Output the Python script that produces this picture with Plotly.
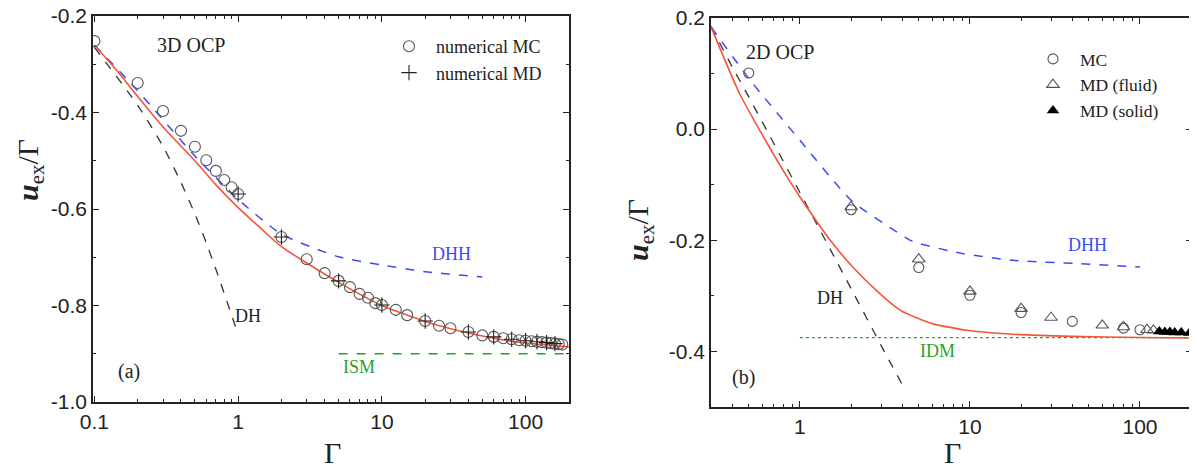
import plotly.graph_objects as go

# ---------------- Panel (a): 3D OCP ----------------
mc3_g = [0.1, 0.2, 0.3, 0.4, 0.5, 0.6, 0.7, 0.8, 0.9, 1, 2, 3, 4, 5, 6, 7, 8, 9, 10,
         12.5, 15, 20, 25, 30, 40, 50, 60, 70, 80, 90, 100, 110, 120, 130, 140, 150,
         160, 170, 180]
mc3_u = [-0.252, -0.339, -0.397, -0.438, -0.471, -0.499, -0.521, -0.540, -0.555, -0.569,
         -0.658, -0.704, -0.733, -0.749, -0.762, -0.776, -0.784, -0.795, -0.799,
         -0.809, -0.820, -0.832, -0.842, -0.847, -0.855, -0.862, -0.865, -0.868,
         -0.870, -0.872, -0.873, -0.874, -0.875, -0.876, -0.877, -0.878, -0.879,
         -0.880, -0.881]
md3_g = [1, 2, 5, 10, 20, 40, 60, 80, 100, 120, 140, 160]
md3_u = [-0.569, -0.658, -0.749, -0.799, -0.832, -0.855, -0.865, -0.870, -0.873,
         -0.875, -0.877, -0.879]
th3_g = [0.1, 0.15, 0.2, 0.3, 0.5, 0.7, 1, 1.5, 2, 3, 5, 10, 20, 40, 80, 200]
th3_u = [-0.26, -0.32, -0.367, -0.43, -0.50, -0.55, -0.597, -0.645, -0.678, -0.712,
         -0.752, -0.80, -0.833, -0.857, -0.874, -0.886]
dhh3_g = [0.1, 0.2, 0.5, 1, 2, 5, 10, 20, 50]
dhh3_u = [-0.26, -0.355, -0.49, -0.58, -0.652, -0.699, -0.716, -0.730, -0.741]
dh3_g = [0.1, 0.2, 0.3, 0.4, 0.5, 0.6, 0.7, 0.8, 0.9, 1.0]
dh3_u = [-0.265, -0.385, -0.47, -0.545, -0.61, -0.67, -0.725, -0.775, -0.82, -0.86]
ism_g = [5, 200]
ism_u = [-0.9, -0.9]

# ---------------- Panel (b): 2D OCP ----------------
mc2_g = [0.5, 2, 5, 10, 20, 40, 80, 100]
mc2_u = [0.101, -0.145, -0.249, -0.299, -0.330, -0.346, -0.358, -0.361]
mdf_g = [2, 5, 10, 20, 30, 60, 80, 110, 120]
mdf_u = [-0.140, -0.234, -0.292, -0.323, -0.339, -0.353, -0.356, -0.361, -0.362]
mds_g = [130, 140, 150, 160, 175, 195]
mds_u = [-0.364, -0.365, -0.365, -0.366, -0.366, -0.367]
th2_g = [0.3, 0.44, 0.6, 0.84, 1, 1.3, 1.5, 2, 2.95, 3.9, 4.9, 6, 9.6, 18, 40, 100, 200]
th2_u = [0.184, 0.065, -0.01, -0.086, -0.122, -0.173, -0.199, -0.245, -0.296, -0.326,
         -0.34, -0.35, -0.362, -0.369, -0.373, -0.375, -0.376]
dh2_g = [0.3, 0.4, 0.5, 0.7, 1, 1.5, 2, 3, 4]
dh2_u = [0.185, 0.112, 0.058, -0.025, -0.114, -0.215, -0.287, -0.389, -0.46]
dhh2_g = [0.3, 0.51, 1, 2, 3.5, 4.6, 9.1, 17.9, 44, 100]
dhh2_u = [0.184, 0.088, -0.02, -0.128, -0.18, -0.202, -0.224, -0.236, -0.242, -0.248]
idm_g = [1, 200]
idm_u = [-0.375, -0.375]

x_ticks = [0.1, 1, 10, 100]
x_ticktext = ["0.1", "1", "10", "100"]
x_minor = [0.2, 0.3, 0.4, 0.5, 0.6, 0.7, 0.8, 0.9, 2, 3, 4, 5, 6, 7, 8, 9,
           20, 30, 40, 50, 60, 70, 80, 90, 200]
y1_ticks = [-1.0, -0.8, -0.6, -0.4, -0.2]
y1_ticktext = ["-1.0", "-0.8", "-0.6", "-0.4", "-0.2"]
y2_ticks = [-0.4, -0.2, 0.0, 0.2]
y2_ticktext = ["-0.4", "-0.2", "0.0", "0.2"]

RED = "#f5543a"
BLUE = "#3b4cf2"
GREEN = "#2aa02a"
GREY = "#555555"
SERIF = "Liberation Serif, Times New Roman, serif"
SANS = "Liberation Sans, Arial, sans-serif"

fig = go.Figure()

def line(x, y, color, dash, width, xa, ya, shape="linear"):
    fig.add_trace(go.Scatter(x=x, y=y, mode="lines", showlegend=False,
                             line=dict(color=color, dash=dash, width=width, shape=shape,
                                       smoothing=0.6 if shape == "spline" else None),
                             xaxis=xa, yaxis=ya, hoverinfo="skip"))

# panel a
line(dh3_g, dh3_u, "#333333", "dash", 1.3, "x", "y", "spline")
line(dhh3_g, dhh3_u, BLUE, "dash", 1.5, "x", "y", "spline")
line(ism_g, ism_u, GREEN, "dash", 1.5, "x", "y")
line(th3_g, th3_u, RED, "solid", 1.6, "x", "y", "spline")
fig.add_trace(go.Scatter(x=mc3_g, y=mc3_u, mode="markers", name="numerical MC",
                         marker=dict(symbol="circle-open", size=11, color=GREY,
                                     line=dict(width=1.1, color=GREY)),
                         xaxis="x", yaxis="y", legend="legend"))
fig.add_trace(go.Scatter(x=md3_g, y=md3_u, mode="markers", name="numerical MD",
                         marker=dict(symbol="cross-thin-open", size=11, color="#222222",
                                     line=dict(width=1.1, color="#222222")),
                         xaxis="x", yaxis="y", legend="legend"))

# panel b
line(dh2_g, dh2_u, "#333333", "dash", 1.3, "x2", "y2", "spline")
line(dhh2_g, dhh2_u, BLUE, "dash", 1.5, "x2", "y2", "spline")
line(idm_g, idm_u, GREEN, "dot", 1.2, "x2", "y2")
line(th2_g, th2_u, RED, "solid", 1.6, "x2", "y2", "spline")
fig.add_trace(go.Scatter(x=mc2_g, y=mc2_u, mode="markers", name="MC",
                         marker=dict(symbol="circle-open", size=10, color=GREY,
                                     line=dict(width=1.1, color=GREY)),
                         xaxis="x2", yaxis="y2", legend="legend2"))
fig.add_trace(go.Scatter(x=mdf_g, y=mdf_u, mode="markers", name="MD (fluid)",
                         marker=dict(symbol="triangle-up-open", size=11, color=GREY,
                                     line=dict(width=1.1, color=GREY)),
                         xaxis="x2", yaxis="y2", legend="legend2"))
fig.add_trace(go.Scatter(x=mds_g, y=mds_u, mode="markers", name="MD (solid)",
                         marker=dict(symbol="triangle-up", size=11, color="#000000"),
                         xaxis="x2", yaxis="y2", legend="legend2"))

W, H = 1197, 472
OFF = 8  # page body margin of the exported html
def px(x): return (x - OFF) / W
def py(y): return 1 - (y - OFF) / H

axis_common = dict(showline=True, linecolor="#222222", linewidth=1.5, mirror="ticks",
                   ticks="inside", ticklen=6, tickwidth=1.3, tickcolor="#222222",
                   showgrid=False, zeroline=False, automargin=False,
                   ticklabeloverflow="allow",
                   tickfont=dict(family=SANS, size=21, color="#222222"))
minor_common = dict(ticks="inside", ticklen=3.5, tickcolor="#222222", tickwidth=1.1)

fig.update_layout(
    template="none",
    width=W, height=H, margin=dict(l=0, r=0, t=0, b=0, pad=0, autoexpand=False),
    paper_bgcolor="white", plot_bgcolor="white", showlegend=True,
    xaxis=dict(type="log", range=[-1.01, 2.302], domain=[px(93), px(569)],
               tickvals=x_ticks, ticktext=x_ticktext,
               minor=dict(tickvals=x_minor, **minor_common),
               anchor="y", **axis_common),
    yaxis=dict(range=[-1.0, -0.2], domain=[py(402), py(16)],
               tickvals=y1_ticks, ticktext=y1_ticktext,
               minor=dict(dtick=0.1, tick0=0, **minor_common),
               anchor="x", **axis_common),
    xaxis2=dict(type="log", range=[-0.523, 2.306], domain=[px(711), px(1192)],
                tickvals=x_ticks, ticktext=x_ticktext,
                minor=dict(tickvals=x_minor, **minor_common),
                anchor="y2", **axis_common),
    yaxis2=dict(range=[-0.5, 0.2], domain=[py(407), py(18)],
                tickvals=y2_ticks, ticktext=y2_ticktext,
                minor=dict(dtick=0.1, tick0=0, **minor_common),
                anchor="x2", **axis_common),
    legend=dict(x=px(382), y=py(28), xanchor="left", yanchor="top",
                bgcolor="rgba(0,0,0,0)", font=dict(family=SERIF, size=18, color="#222222"),
                itemwidth=44, tracegroupgap=0),
    legend2=dict(x=px(1026), y=py(41), xanchor="left", yanchor="top",
                 bgcolor="rgba(0,0,0,0)", font=dict(family=SERIF, size=17.5, color="#222222"),
                 itemwidth=44, tracegroupgap=0),
)

def note(text, x, y, size=16, color="#222222", family=SERIF, angle=0, xanchor="center"):
    fig.add_annotation(text=text, x=px(x), y=py(y), xref="paper", yref="paper",
                       showarrow=False, xanchor=xanchor, yanchor="middle",
                       textangle=angle, font=dict(family=family, size=size, color=color))

note("3D OCP", 191, 45, 20)
note("DH", 248, 316, 18)
note("DHH", 451, 254, 18, BLUE)
note("ISM", 359, 367, 18, GREEN)
note("(a)", 129, 371, 20)
note("2D OCP", 780, 52, 20)
note("DH", 830, 298, 18)
note("DHH", 1087, 245, 18, BLUE)
note("IDM", 937, 351, 18, GREEN)
note("(b)", 743, 377, 20)

ytitle = "<b><i>u</i></b><sub>ex</sub>/Γ"
note(ytitle, 30, 170, 30, angle=-90)
note(ytitle, 640, 230, 30, angle=-90)
note("Γ", 332, 452, 30)
note("Γ", 952, 452, 30)

fig.write_html("out.html")
